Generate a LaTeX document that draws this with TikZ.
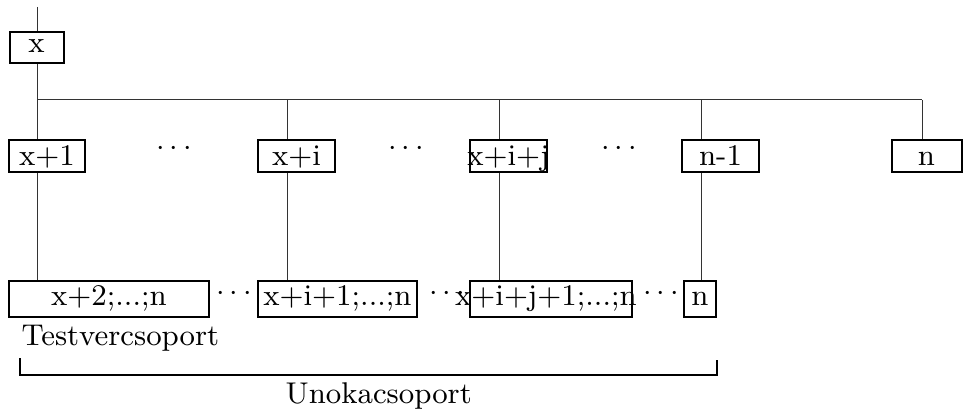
\documentclass[tikz,border=0pt]{standalone}
\usepackage{tikz}
\begin{document}
\begin{tikzpicture}[x=0.3pt,y=-0.3pt,
  font=\fontsize{9}{11}\selectfont,
  box/.style={draw=black,line width=0.6pt,inner sep=0pt,minimum height=#1},
  box/.default=32*0.3pt,
  conn/.style={draw=black!80,line width=0.3pt},
  brk/.style={draw=black,line width=0.4pt},
  txt/.style={inner sep=0pt,anchor=base west},
  dotsn/.style={inner sep=0pt,anchor=base}]
\useasboundingbox (0,0) rectangle (963,410);
% row 1
\node[box=9.3pt,minimum width=16.2pt,text height=3.3pt,text depth=0pt] (x) at (36.5,47.5) {\makebox[0pt]{x}};
% row 2
\node[box=9.6pt,minimum width=22.8pt,text height=5.7pt,text depth=0pt] (x1) at (47,156) {\makebox[0pt]{x+1}};
\node[box=9.6pt,minimum width=23.1pt,text height=5.7pt,text depth=0pt] (xi) at (296.5,156) {\makebox[0pt]{x+i}};
\node[box=9.6pt,minimum width=23.1pt,text height=5.7pt,text depth=0pt] (xij) at (508.5,156) {\makebox[0pt]{x+i+j}};
\node[box=9.6pt,minimum width=23.1pt,text height=5.7pt,text depth=0pt] (nm1) at (720.5,156) {\makebox[0pt]{n-1}};
\node[box=9.6pt,minimum width=21pt,text height=5.7pt,text depth=0pt] (nn) at (926.5,156) {\makebox[0pt]{n}};
% row 3
\node[box=10.8pt,minimum width=60pt,text height=5.4pt,text depth=1.8pt] (ra) at (109,299) {\makebox[0pt]{x+2;...;n}};
\node[box=10.8pt,minimum width=47.7pt,text height=5.4pt,text depth=1.8pt] (rb) at (337.5,299) {\makebox[0pt]{x+i+1;...;n}};
\node[box=10.8pt,minimum width=48.6pt,text height=5.4pt,text depth=1.8pt] (rc) at (551,299) {\makebox[0pt]{\hspace*{-3pt}x+i+j+1;...;n}};
\node[box=10.8pt,minimum width=9.6pt,text height=5.4pt,text depth=1.8pt] (rd) at (700,299) {\makebox[0pt]{n}};
% dots
\node[dotsn] (d1) at (174,155.5) {$\cdots$};
\node[dotsn] (d2) at (406,155.5) {$\cdots$};
\node[dotsn] (d3) at (619,155.5) {$\cdots$};
\node[dotsn] (d4) at (234,300.5) {$\cdots$};
\node[dotsn] (d5) at (447,300.5) {$\cdots$};
\node[dotsn] (d6) at (661,300.5) {$\cdots$};
% labels
\node[txt] (tv) at (21,345) {Testvercsoport};
\node[txt] (un) at (285,403) {Unokacsoport};
% coordinates
\coordinate (top) at (37,7);
\coordinate (b0) at (37,100);
\coordinate (b1) at (287,100);
\coordinate (b2) at (499,100);
\coordinate (b3) at (701,100);
\coordinate (b4) at (922,100);
\coordinate (k1) at (20,358);
\coordinate (k2) at (20,375);
\coordinate (k3) at (717,375);
\coordinate (k4) at (717,360);
% connectors
\draw[conn] (top) -- (top |- x.north);
\draw[conn] (b0 |- x.south) -- (b0);
\draw[conn] (b0) -- (b4);
\draw[conn] (b0) -- (b0 |- x1.north);
\draw[conn] (b1) -- (b1 |- xi.north);
\draw[conn] (b2) -- (b2 |- xij.north);
\draw[conn] (b3) -- (b3 |- nm1.north);
\draw[conn] (b4) -- (b4 |- nn.north);
\draw[conn] (b0 |- x1.south) -- (b0 |- ra.north);
\draw[conn] (b1 |- xi.south) -- (b1 |- rb.north);
\draw[conn] (b2 |- xij.south) -- (b2 |- rc.north);
\draw[conn] (b3 |- nm1.south) -- (b3 |- rd.north);
\draw[brk] (k1) -- (k2) -- (k3) -- (k4);
\end{tikzpicture}
\end{document}
